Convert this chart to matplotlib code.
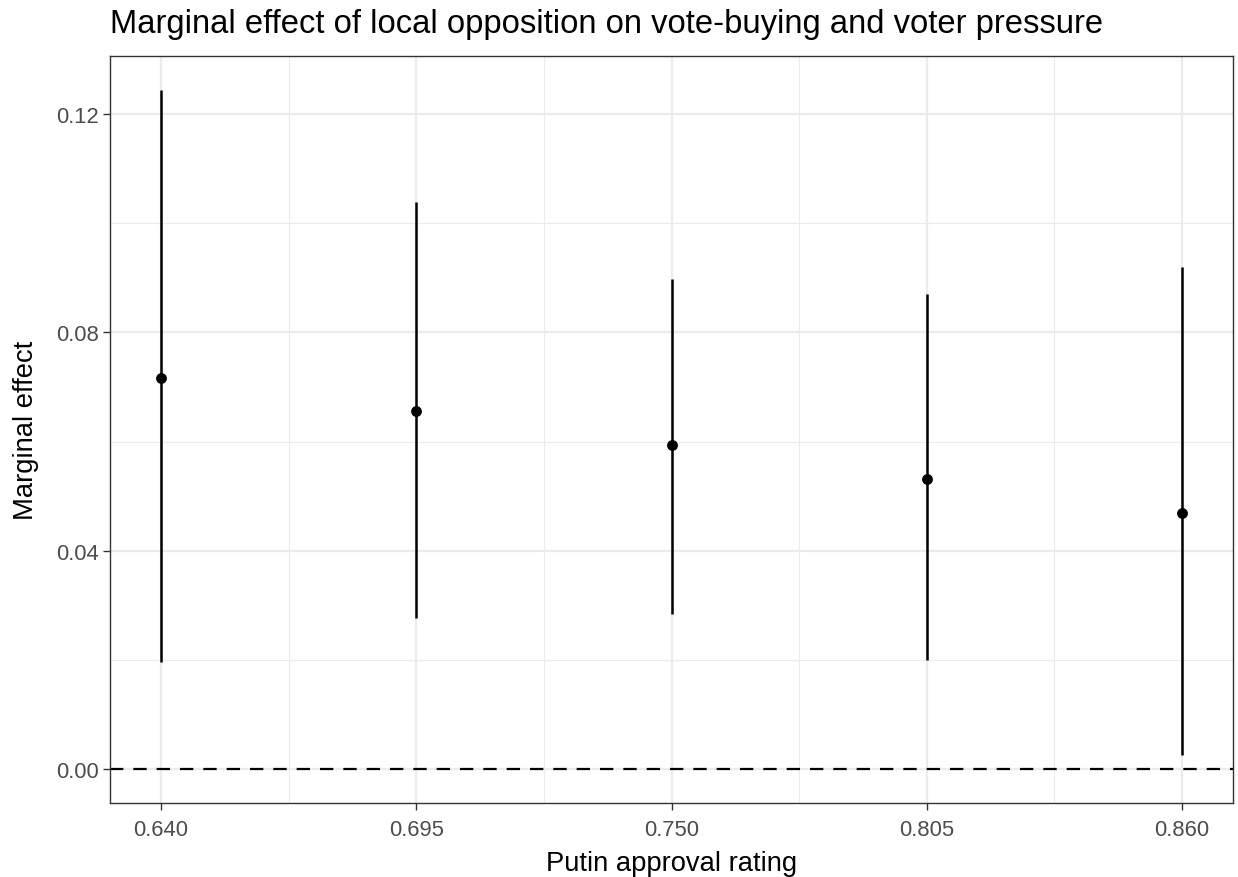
import matplotlib
matplotlib.use("Agg")
import matplotlib.pyplot as plt
from matplotlib.ticker import FixedLocator

approval = [0.640, 0.695, 0.750, 0.805, 0.860]
effect = [0.0716, 0.0656, 0.0594, 0.0532, 0.0469]
lower = [0.0197, 0.0276, 0.0285, 0.0199, 0.0025]
upper = [0.1244, 0.1039, 0.0897, 0.0871, 0.0919]
xtick_labels = ["0.640", "0.695", "0.750", "0.805", "0.860"]
yticks = [0.00, 0.04, 0.08, 0.12]
ytick_labels = ["0.00", "0.04", "0.08", "0.12"]

plt.rcParams['font.family'] = ['Liberation Sans', 'DejaVu Sans']

fig = plt.figure(figsize=(12.38, 8.78), dpi=100)
ax = fig.add_axes([110/1238, 1-804/878, (1233-110)/1238, (804-57)/878])

ax.set_xlim(0.629, 0.871)
ax.set_ylim(-0.0062, 0.1306)

ax.xaxis.set_major_locator(FixedLocator(approval))
ax.xaxis.set_minor_locator(FixedLocator([0.6675, 0.7225, 0.7775, 0.8325]))
ax.yaxis.set_major_locator(FixedLocator(yticks))
ax.yaxis.set_minor_locator(FixedLocator([0.02, 0.06, 0.10]))
ax.set_xticklabels(xtick_labels)
ax.set_yticklabels(ytick_labels)

ax.grid(True, which='major', color='#EBEBEB', linewidth=1.6)
ax.grid(True, which='minor', color='#EBEBEB', linewidth=0.8)
ax.set_axisbelow(True)

ax.axhline(0, color='black', linestyle=(0, (6, 4.5)), linewidth=1.6, zorder=2)
ax.vlines(approval, lower, upper, color='black', linewidth=1.8, zorder=3)
ax.scatter(approval, effect, s=46, color='black', zorder=4)

for s in ax.spines.values():
    s.set_color('#333333')
    s.set_linewidth(1.0)

ax.tick_params(which='major', length=5, width=1.0, color='#333333',
               labelsize=15.8, labelcolor='#4D4D4D', pad=3)
ax.tick_params(axis='x', which='major', pad=6.5)
ax.tick_params(which='minor', length=0)

ax.set_xlabel("Putin approval rating", fontsize=19.7, color='black', labelpad=7)
ax.set_ylabel("Marginal effect", fontsize=19.7, color='black', labelpad=12)
fig.text(110/1238, 1-24/878, "Marginal effect of local opposition on vote-buying and voter pressure",
         fontsize=23.6, color='black', ha='left', va='center')

fig.savefig("out.png", dpi=100, facecolor='white')
